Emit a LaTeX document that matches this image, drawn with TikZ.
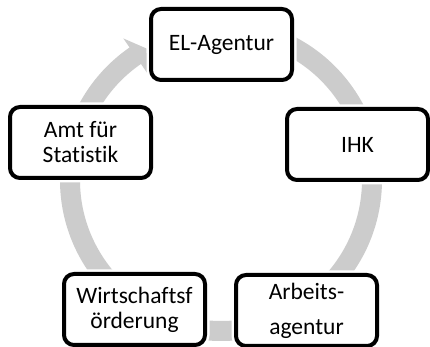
\documentclass[tikz,border=0pt]{standalone}
\usepackage{fontspec}
\setmainfont{Carlito}[Ligatures=NoCommon]
\definecolor{ringgray}{RGB}{204,204,204}
\tikzset{
  cyclebox/.style={
    draw=black, fill=white, line width=4pt, rounded corners=10pt,
    minimum width=141pt, minimum height=71pt, inner sep=0pt,
    align=center, font=\fontsize{23.5}{25}\selectfont,
    preaction={draw=white, line width=9pt}
  }
}
\begin{document}
\begin{tikzpicture}[x=1pt, y=1pt]
  \useasboundingbox (0,0) rectangle (430,347);
  \clip (0,0) rectangle (430,347);
  \fill[white] (0,0) rectangle (430,347);

  % circular arrow running clockwise around the cycle
  \begin{scope}[shift={(221,167)}]
    \fill[ringgray]
      (85:161) arc[start angle=85, end angle=-235.4, radius=161]
      -- (-235.4:172) -- (-240.5:151) -- (-235.4:130) -- (-235.4:141)
      arc[start angle=-235.4, end angle=85, radius=141] -- cycle;
  \end{scope}

  % the five stations
  \node[cyclebox] (el)   at (221.5,302.5) {EL-Agentur};
  \node[cyclebox] (ihk)  at (357.5,202.5) {IHK};
  \node[cyclebox] (arb)  at (306.5,36.5)  {Arbeits-\\[10pt]agentur};
  \node[cyclebox] (wirt) at (134.5,37.5)  {Wirtschaftsf\\örderung};
  \node[cyclebox] (amt)  at (80.5,204.5)  {Amt für\\Statistik};
\end{tikzpicture}
\end{document}
